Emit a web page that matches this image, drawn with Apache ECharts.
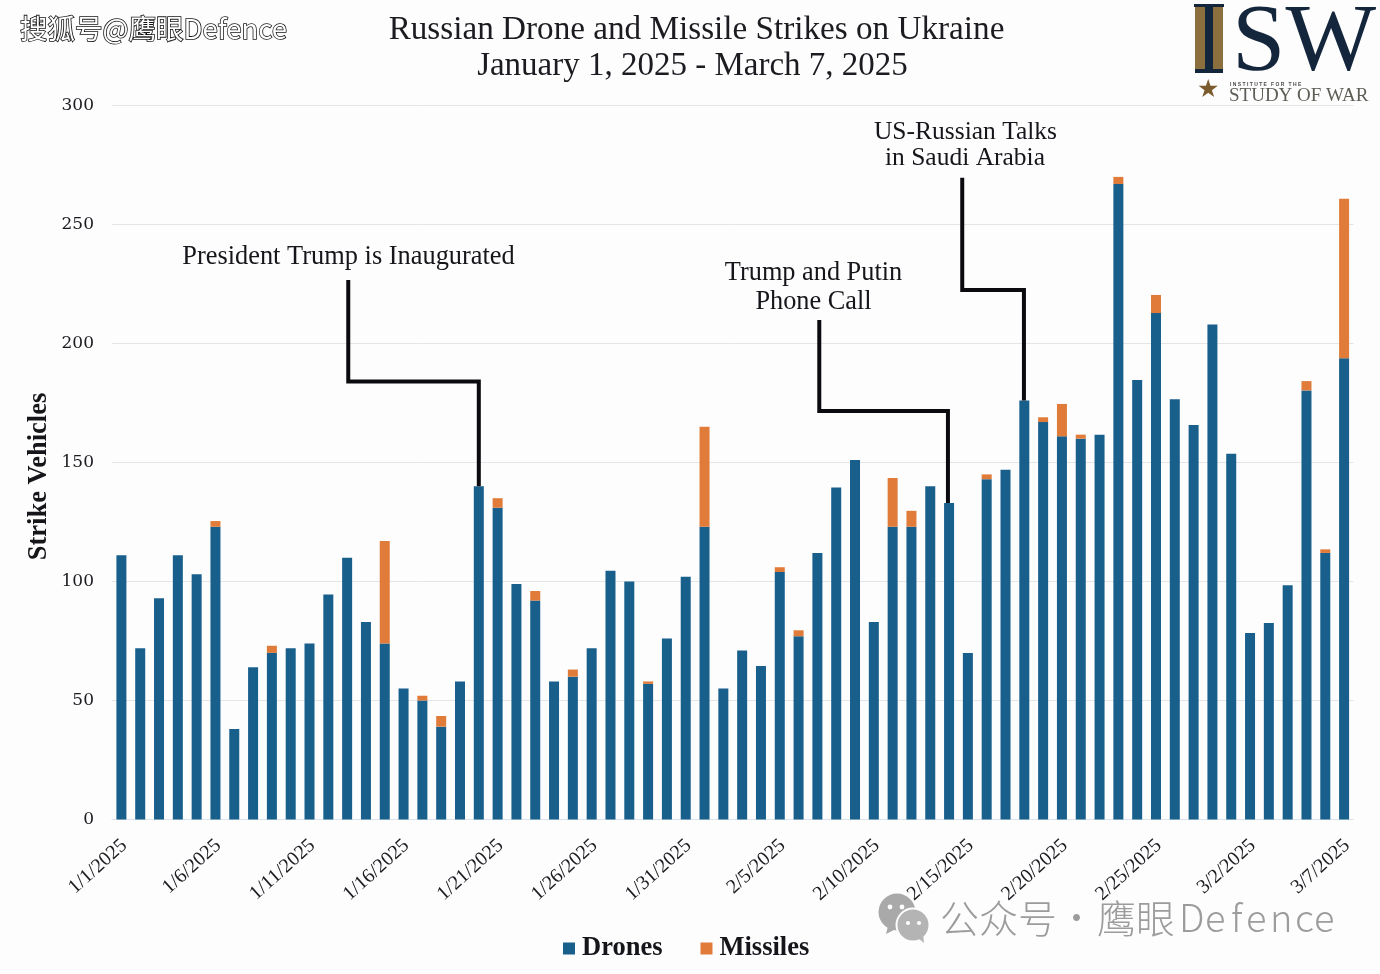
<!DOCTYPE html>
<html><head><meta charset="utf-8">
<script src="https://cdn.jsdelivr.net/npm/echarts@6/dist/echarts.min.js"></script>
<style>html,body{margin:0;padding:0;background:#fdfdfe;overflow:hidden}#c{width:1380px;height:974px}</style>
</head><body><div id="c"></div>
<script>
const categories = ["1/1/2025","1/2/2025","1/3/2025","1/4/2025","1/5/2025","1/6/2025","1/7/2025","1/8/2025","1/9/2025","1/10/2025","1/11/2025","1/12/2025","1/13/2025","1/14/2025","1/15/2025","1/16/2025","1/17/2025","1/18/2025","1/19/2025","1/20/2025","1/21/2025","1/22/2025","1/23/2025","1/24/2025","1/25/2025","1/26/2025","1/27/2025","1/28/2025","1/29/2025","1/30/2025","1/31/2025","2/1/2025","2/2/2025","2/3/2025","2/4/2025","2/5/2025","2/6/2025","2/7/2025","2/8/2025","2/9/2025","2/10/2025","2/11/2025","2/12/2025","2/13/2025","2/14/2025","2/15/2025","2/16/2025","2/17/2025","2/18/2025","2/19/2025","2/20/2025","2/21/2025","2/22/2025","2/23/2025","2/24/2025","2/25/2025","2/26/2025","2/27/2025","2/28/2025","3/1/2025","3/2/2025","3/3/2025","3/4/2025","3/5/2025","3/6/2025","3/7/2025"];
const drones = [111,72,93,111,103,123,38,64,70,72,74,94.5,110,83,74,55,50,39,58,140,131,99,92,58,60,72,104.5,100,57,76,102,123,55,71,64.5,104,77,112,139.5,151,83,123,123,140,133,70,143,147,176,167,161,160,161.7,267,184.7,212.8,176.6,165.8,208,153.7,78.4,82.6,98.4,180.3,112,193.8];
const missiles = [0,0,0,0,0,2.4,0,0,3,0,0,0,0,0,43,0,2,4.5,0,0,4,0,4,0,3,0,0,0,1,0,0,42,0,0,0,2,2.5,0,0,0,0,20.5,6.7,0,0,0,2,0,0,2,13.6,1.7,0,3,0,7.6,0,0,0,0,0,0,0,3.9,1.5,67];
const trumpLeader = [[12.06,226.7],[12.06,184],[19,184],[19,140]];
const callLeader = [[37.1,209.9],[37.1,171.6],[43.94,171.6],[43.94,133]];
const talksLeader = [[44.7,269.6],[44.7,222.5],[47.98,222.5],[47.98,176]];

const serif = '"Liberation Serif"';
const cjk = '"Noto Sans CJK SC"';
function leader(data){return {type:'line',xAxisIndex:1,yAxisIndex:0,data,symbol:'none',silent:true,z:5,
  lineStyle:{color:'#0a0a0f',width:4,join:'miter',cap:'butt'}};}
function note(text,cx,y,size){return {type:'text',z:50,style:{text,x:cx,y,align:'center',verticalAlign:'middle',font:size+'px '+serif,fill:'#15151a'}};}
function mark(text,x,y,size,fill,extra){return {type:'text',z:60,style:Object.assign({text,x,y,verticalAlign:'middle',font:size,fill},extra||{})};}
const wmFont = '300 38px '+cjk, wmFill = '#9c9c9c';

const chart = echarts.init(document.getElementById('c'),null,{renderer:'canvas'});
chart.setOption({
  animation:false,
  backgroundColor:'#fdfdfe',
  title:[
    {text:'Russian Drone and Missile Strikes on Ukraine',left:696.5,top:14,textAlign:'center',padding:0,
      textStyle:{fontFamily:serif,fontSize:33.2,fontWeight:'normal',color:'#1b1b20'}},
    {text:'January 1, 2025 - March 7, 2025',left:692.5,top:50,textAlign:'center',padding:0,
      textStyle:{fontFamily:serif,fontSize:33,fontWeight:'normal',color:'#1b1b20'}}
  ],
  legend:{data:['Drones','Missiles'],left:558,top:930,itemWidth:12,itemHeight:12,itemGap:38,icon:'rect',
    textStyle:{fontFamily:serif,fontSize:26.5,fontWeight:'bold',color:'#15151a',padding:[0,0,0,2]}},
  grid:{left:112,right:26.5,top:105.5,bottom:154.5},
  xAxis:[{type:'category',data:categories,axisTick:{show:false},
      axisLine:{lineStyle:{color:'#d9e4ec',width:1}},
      axisLabel:{interval:4,rotate:42,margin:26,fontFamily:serif,fontSize:20,color:'#1b1b20',padding:[0,-4,0,0]}},
    {type:'value',min:-0.5,max:65.5,show:false,splitLine:{show:false}}],
  yAxis:[{type:'value',min:0,max:300,interval:50,name:'Strike Vehicles',nameLocation:'middle',nameGap:59,nameMoveOverlap:false,
      nameTextStyle:{fontFamily:serif,fontSize:26.5,fontWeight:'bold',color:'#15151a',padding:[0,28,0,0]},
      axisLine:{show:false},axisTick:{show:false},
      splitLine:{lineStyle:{color:'#e3e5e9',width:1}},
      axisLabel:{margin:18,fontFamily:'"DejaVu Serif"',fontSize:17,color:'#1b1b20'}}],
  series:[
    {name:'Drones',type:'bar',stack:'s',data:drones,barWidth:10,itemStyle:{color:'#185f8c'}},
    {name:'Missiles',type:'bar',stack:'s',data:missiles,barWidth:10,itemStyle:{color:'#e07b39'}},
    leader(trumpLeader),leader(callLeader),leader(talksLeader)
  ],
  graphic:{elements:[
    note('President Trump is Inaugurated',348.5,257,26.4),
    note('Trump and Putin',813.5,273,26.3),
    note('Phone Call',813.5,302,26.3),
    note('US-Russian Talks',965.5,132,25.5),
    note('in Saudi Arabia',965,158,25.5),
    mark('搜狐号@鹰眼Defence',20,29,'27.5px '+cjk,'#ffffff',{stroke:'#111',lineWidth:1.6}),
    {type:'circle',z:60,shape:{cx:897,cy:912,r:18.5},style:{fill:'#a9a9a9'}},
    {type:'circle',z:60,shape:{cx:913,cy:925,r:16.5},style:{fill:'#b4b4b4',stroke:'#fdfdfe',lineWidth:2}},
    {type:'polygon',z:60,shape:{points:[[888,926],[886,934],[896,929]]},style:{fill:'#a9a9a9'}},
    {type:'polygon',z:60,shape:{points:[[918,938],[924,943],[923,934]]},style:{fill:'#b4b4b4'}},
    {type:'circle',z:61,shape:{cx:890,cy:907,r:2.4},style:{fill:'#fdfdfe'}},
    {type:'circle',z:61,shape:{cx:902,cy:907,r:2.4},style:{fill:'#fdfdfe'}},
    {type:'circle',z:61,shape:{cx:908,cy:923,r:2.1},style:{fill:'#fdfdfe'}},
    {type:'circle',z:61,shape:{cx:919,cy:923,r:2.1},style:{fill:'#fdfdfe'}},
    mark('公众号',940,918,'300 39px '+cjk,wmFill),
    mark('·',1058,918,'300 37px '+cjk,wmFill),
    mark('鹰眼',1097,918,'300 39px '+cjk,wmFill),
    mark('D',1179,918,wmFont,wmFill), mark('e',1205,918,wmFont,wmFill), mark('f',1231,918,wmFont,wmFill),
    mark('e',1246,918,wmFont,wmFill), mark('n',1270,918,wmFont,wmFill), mark('c',1295,918,wmFont,wmFill),
    mark('e',1314,918,wmFont,wmFill),
    {type:'rect',z:40,shape:{x:1195,y:5,width:28,height:66},style:{fill:'#8b6f3e'}},
    {type:'rect',z:41,shape:{x:1205,y:5,width:8,height:68},style:{fill:'#14263c'}},
    {type:'rect',z:41,shape:{x:1194,y:4,width:30,height:3},style:{fill:'#14263c'}},
    {type:'rect',z:41,shape:{x:1195,y:69,width:28,height:4},style:{fill:'#14263c'}},
    mark('SW',1232,45,'96px '+serif,'#14263c'),
    mark('★',1197,90,'25px "DejaVu Sans"','#7a5c2e'),
    mark('I N S T I T U T E   F O R   T H E',1230,85,'bold 5px "Liberation Sans"','#4a4a48'),
    mark('STUDY OF WAR',1229,96,'19px '+serif,'#5d5d56')
  ]}
});
</script></body></html>
